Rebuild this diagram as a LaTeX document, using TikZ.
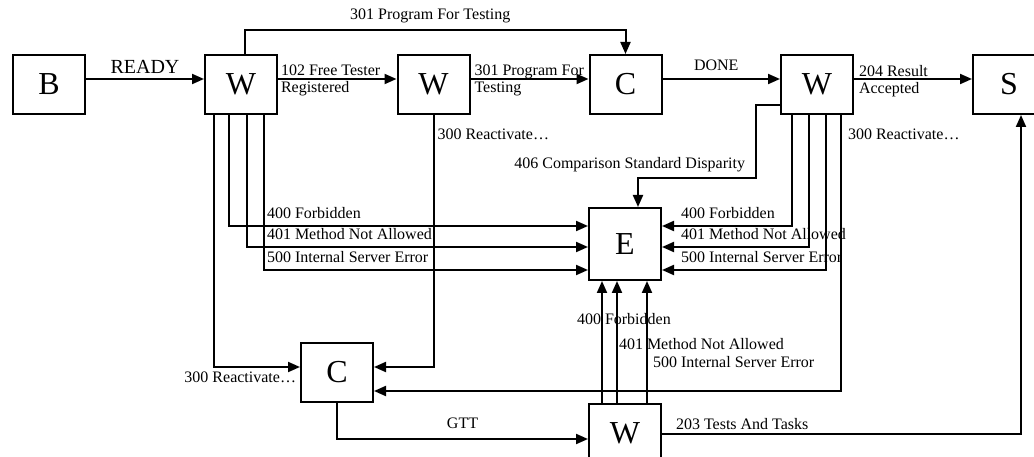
\documentclass[tikz,border=0pt]{standalone}
\usepackage{fontspec}
\setmainfont{Liberation Serif}
\usetikzlibrary{arrows.meta}

\begin{document}
\begin{tikzpicture}[x=1pt,y=-1pt,
		box/.style={draw,line width=2pt,minimum width=72pt,minimum height=59pt,inner sep=0pt,font=\fontsize{32}{32}\selectfont},
		lbl/.style={inner sep=0pt,align=left,font=\fontsize{16}{17}\selectfont},
		arr/.style={line width=2pt,-{Triangle[length=12pt,width=10pt]}}]
		\path[use as bounding box,clip] (0,0) rectangle (1034,457);
		% top row
		\node [box] (b) at (49,84.5) {B};
		\node [box] (w1) at (241,84.5) {W};
		\node [box] (w2) at (433.5,84.5) {W};
		\node [box] (c1) at (625.5,84.5) {C};
		\node [box] (w3) at (817,84.5) {W};
		\node [box] (s) at (1009,84.5) {S};
		% middle and bottom
		\node [box,minimum height=72pt] (e) at (625,244) {E};
		\node [box] (c2) at (337,372.5) {C};
		\node [box] (w4) at (625,433.5) {W};

		\draw[arr] ([yshift=5.5pt]b.east) -- node[lbl,above=4pt,font=\fontsize{20}{20}\selectfont] {READY} ([yshift=5.5pt]w1.west);
		\draw[arr] ([yshift=5.5pt]w1.east) -- node[lbl,pos=0,anchor=north west,shift={(2pt,15pt)}] {102 Free Tester\\Registered} ([yshift=5.5pt]w2.west);
		\draw[arr] ([yshift=5.5pt]w2.east) -- node[lbl,pos=0,anchor=north west,shift={(3pt,15pt)}] {301 Program For\\Testing} ([yshift=5.5pt]c1.west);
		\draw[arr] ([yshift=5.5pt]c1.east) -- node[lbl,above=7.5pt,xshift=-5pt] {DONE} ([yshift=5.5pt]w3.west);
		\draw[arr] ([yshift=5.5pt]w3.east) -- node[lbl,pos=0,anchor=north west,shift={(4pt,15pt)}] {204 Result\\Accepted} ([yshift=5.5pt]s.west);
		\draw[arr] ([xshift=4pt]w1.north) -- ++(0,-24) -| node[lbl,pos=0.25,above=6pt,xshift=-5pt] {301 Program For Testing} (c1.north);
		\draw[arr] ([yshift=-20.5pt]w3.west) -| ++(-24,73) -| node[lbl,pos=0,anchor=south east,shift={(-10pt,5pt)}] {406 Comparison Standard Disparity} ([xshift=13pt]e.north);

		% W (left) to E and C
		\draw[arr] ([xshift=-27pt]w1.south) |- node[lbl,pos=1,anchor=north east,shift={(-3pt,-4pt)}] {300 Reactivate…} ([yshift=5.5pt]c2.west);
		\draw[arr] ([xshift=-12pt]w1.south) |- node[lbl,pos=0.5,anchor=base west,shift={(37pt,7pt)}] {400 Forbidden} ([yshift=18pt]e.west);
		\draw[arr] ([xshift=6pt]w1.south) |- node[lbl,pos=0.5,anchor=base west,shift={(19pt,7pt)}] {401 Method Not Allowed} ([yshift=-3pt]e.west);
		\draw[arr] ([xshift=23pt]w1.south) |- node[lbl,pos=0.5,anchor=base west,shift={(2pt,7pt)}] {500 Internal Server Error} ([yshift=-26pt]e.west);
		\draw[arr] (w2.south) |- node[lbl,pos=0,anchor=north west,shift={(3pt,-13pt)}] {300 Reactivate…} ([yshift=5.5pt]c2.east);

		% W (right) to E and C
		\draw[arr] ([xshift=-25pt]w3.south) |- node[lbl,pos=1,anchor=base west,shift={(18pt,7pt)}] {400 Forbidden} ([yshift=18pt]e.east);
		\draw[arr] ([xshift=-8pt]w3.south) |- node[lbl,pos=1,anchor=base west,shift={(18pt,7pt)}] {401 Method Not Allowed} ([yshift=-3pt]e.east);
		\draw[arr] ([xshift=9pt]w3.south) |- node[lbl,pos=1,anchor=base west,shift={(18pt,7pt)}] {500 Internal Server Error} ([yshift=-26pt]e.east);
		\draw[arr] ([xshift=24pt]w3.south) |- node[lbl,pos=0,anchor=north west,shift={(6pt,-13pt)}] {300 Reactivate…} ([yshift=-18.5pt]c2.east);

		% W (bottom)
		\draw[arr] ([xshift=-23pt]w4.north) -- node[lbl,pos=0.64,anchor=base west,xshift=-26pt] {400 Forbidden} ([xshift=-23pt]e.south);
		\draw[arr] ([xshift=-8pt]w4.north) -- node[lbl,pos=0.435,anchor=base west,xshift=1pt] {401 Method Not Allowed} ([xshift=-8pt]e.south);
		\draw[arr] ([xshift=22pt]w4.north) -- node[lbl,pos=0.29,anchor=base west,xshift=5pt] {500 Internal Server Error} ([xshift=22pt]e.south);
		\draw[arr] (c2.south) |- node[lbl,pos=0.75,above=9pt] {GTT} ([yshift=-5.5pt]w4.west);
		\draw[arr] (w4.east) -| node[lbl,pos=0,anchor=base west,shift={(13pt,4pt)}] {203 Tests And Tasks} ([xshift=12pt]s.south);
	\end{tikzpicture}
\end{document}
